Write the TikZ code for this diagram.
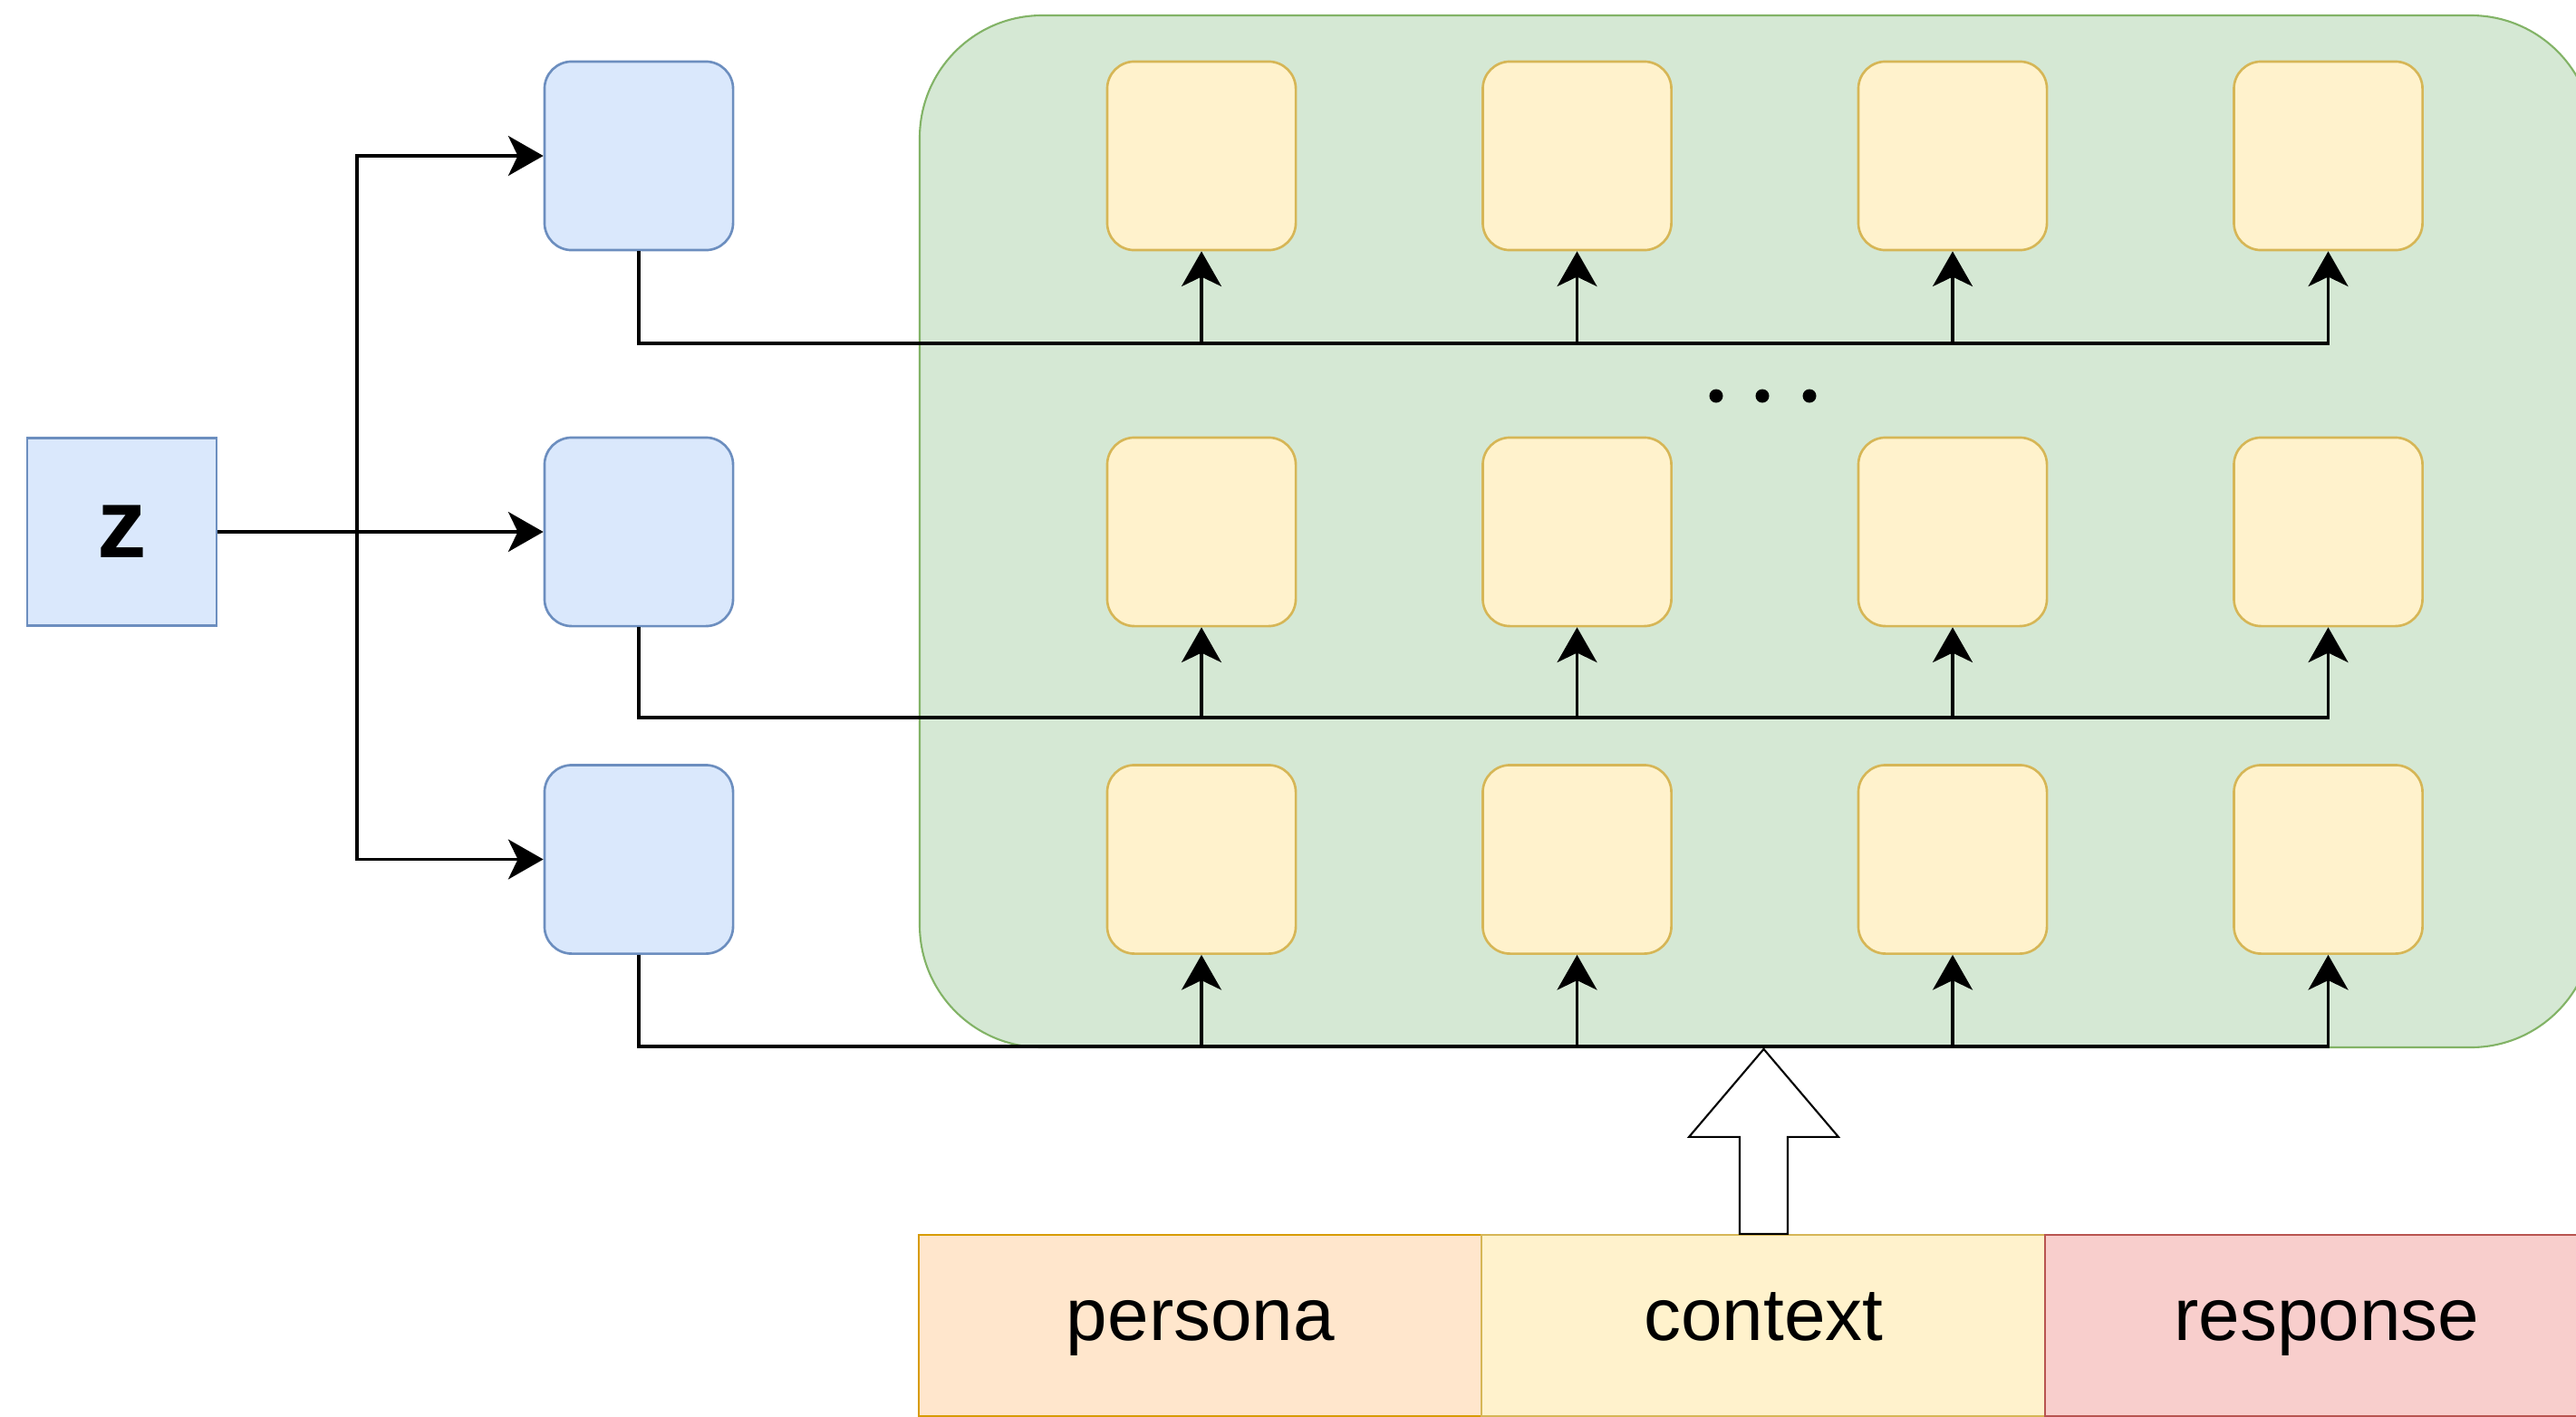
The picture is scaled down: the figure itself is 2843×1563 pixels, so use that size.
\documentclass[tikz,border=0pt]{standalone}
\usepackage{fontspec}
\setmainfont{Liberation Sans}
\usetikzlibrary{arrows.meta,calc}

\definecolor{blueFill}{HTML}{DAE8FC}
\definecolor{blueLine}{HTML}{6C8EBF}
\definecolor{greenFill}{HTML}{D5E8D4}
\definecolor{greenLine}{HTML}{82B366}
\definecolor{yellowFill}{HTML}{FFF2CC}
\definecolor{yellowLine}{HTML}{D6B656}
\definecolor{orangeFill}{HTML}{FFE6CC}
\definecolor{orangeLine}{HTML}{D79B00}
\definecolor{redFill}{HTML}{F8CECC}
\definecolor{redLine}{HTML}{B85450}

\tikzset{
  cell/.style={minimum width=2.08cm, minimum height=2.08cm, inner sep=0pt,
    rounded corners=0.3cm, line width=0.75pt},
  bluebox/.style={cell, draw=blueLine, fill=blueFill},
  yellowbox/.style={cell, draw=yellowLine, fill=yellowFill},
  zbox/.style={minimum width=2.09cm, minimum height=2.07cm, inner sep=0pt,
    draw=blueLine, fill=blueFill, line width=0.75pt,
    font=\fontsize{31}{34}\selectfont\bfseries},
  panel/.style={draw=greenLine, fill=greenFill, line width=0.6pt, rounded corners=1.35cm},
  seg/.style={minimum width=6.22cm, minimum height=2.0cm, inner sep=0pt,
    text height=0.92em, text depth=0.01em,
    line width=0.6pt, font=\fontsize{23.3}{26}\selectfont},
  wire/.style={line width=1.05pt, draw=black},
  tip/.style={-{Stealth[length=11pt, width=12.5pt, inset=3pt]}},
  hollow/.style={draw=black, fill=white, line width=0.6pt, line join=miter},
}

\begin{document}
\begin{tikzpicture}[x=0.01cm, y=-0.01cm]
\useasboundingbox (0,0) rectangle (2843,1563);
\clip (0,0) rectangle (2843,1563);

% container of the decoder grid
\path[panel] (1015,17) rectangle (2862,1156);

% latent variable and its projections
\node[zbox] (z) at (134.5,587) {z};
\node[bluebox] (b1) at (705,172) {};
\node[bluebox] (b2) at (705,587) {};
\node[bluebox] (b3) at (705,948.5) {};

% grid of layer cells
\foreach \r/\yy in {1/172, 2/587, 3/948.5}{
  \foreach \c/\xx in {1/1326, 2/1740.5, 3/2155, 4/2569.5}{
    \node[yellowbox] (r\r c\c) at (\xx,\yy) {};
  }
}

% ellipsis between the first and second rows
\foreach \xx in {1894,1945,1997}{
  \fill (\xx,437) circle[radius=0.075cm];
}

% fan-out from z
\coordinate (split) at (394,587);
\draw[wire] (z.east) -- (split);
\draw[wire,tip] (split) |- (b1.west);
\draw[wire,tip] (split) -- (b2.west);
\draw[wire,tip] (split) |- (b3.west);

% buses from each projection into its row
\coordinate (bus1) at (0,379);
\coordinate (bus2) at (0,792);
\coordinate (bus3) at (0,1155);
\foreach \r in {1,2,3}{
  \draw[wire,tip] (b\r.south) -- (b\r.south |- bus\r) -| (r\r c4.south);
  \foreach \c in {1,2,3}{
    \draw[wire,tip] (r\r c\c.south |- bus\r) -- (r\r c\c.south);
  }
}

% input segments
\node[seg, draw=orangeLine, fill=orangeFill] (per) at (1325,1463) {persona};
\node[seg, draw=yellowLine, fill=yellowFill] (ctx) at (1946.5,1463) {context};
\node[seg, draw=redLine, fill=redFill] (res) at (2568,1463) {response};

% block arrow feeding the inputs upward
\draw[hollow]
  ($(ctx.north)+(-26.5,0)$) -- ++(0,-107) -- ++(-56,0)
  -- ($(ctx.north)+(0,-204)$)
  -- ($(ctx.north)+(82.5,-107)$) -- ++(-56,0) -- ($(ctx.north)+(26.5,0)$) -- cycle;
\end{tikzpicture}
\end{document}
